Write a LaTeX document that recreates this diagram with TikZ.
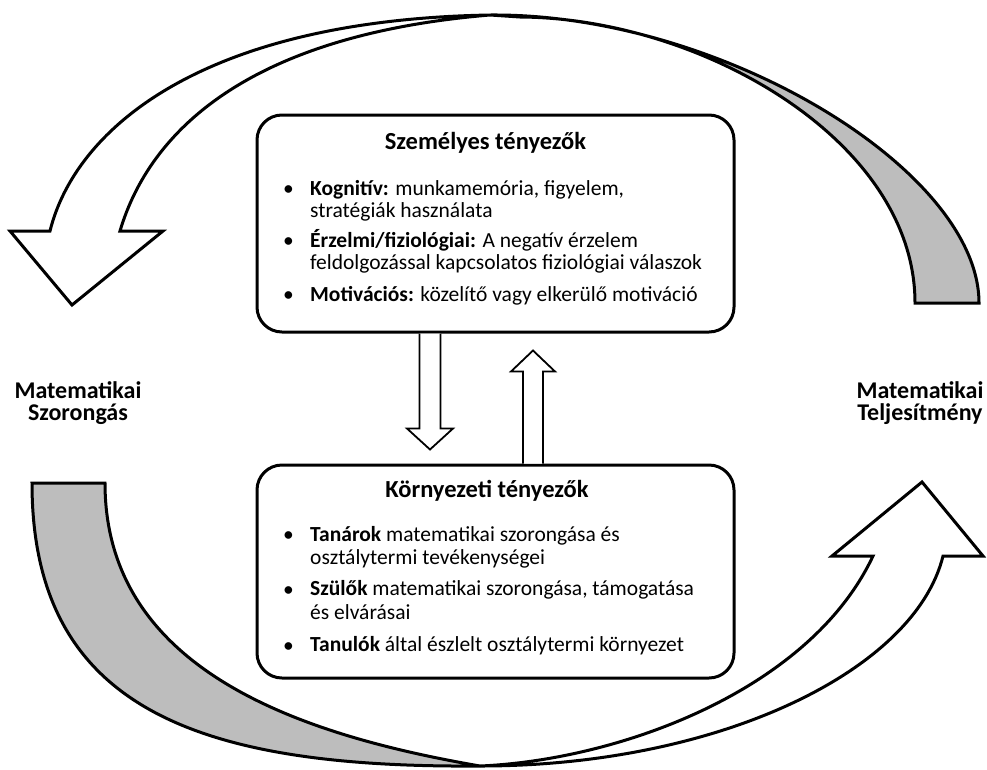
\documentclass[tikz,border=0pt]{standalone}
\usepackage{fontspec}
\setmainfont{Carlito}
\begin{document}
\begin{tikzpicture}[x=1pt,y=-1pt,
  box/.style={draw, line width=3pt, rounded corners=25pt, minimum width=477pt, inner sep=0pt},
  bigarrow/.style={draw, line width=3pt, line join=miter, miter limit=10},
  tail/.style={bigarrow, fill=black!26},
  smallarrow/.style={draw, line width=1.8pt, line join=miter, fill=white},
  body/.style={font=\fontsize{21.5}{22}\selectfont, inner sep=0pt, anchor=base west},
  bul/.style={font=\fontsize{21.5}{22}\selectfont, inner sep=0pt, anchor=base},
  ttl/.style={font=\fontsize{24.5}{25}\selectfont\bfseries, inner sep=0pt, anchor=base},
  side/.style={font=\fontsize{24}{25}\selectfont\bfseries, inner sep=0pt, anchor=base}]
\useasboundingbox (0,0) rectangle (987,769);

% ---- top curved arrow (gray tail + white head) ----
\draw[tail] (490,15) .. controls (720,13) and (979,170) .. (979,303)
  -- (915,303) .. controls (915,140) and (700,18) .. (520,17) -- cycle;
\draw[bigarrow, fill=white] (72,305) -- (10,231) -- (50,231)
  .. controls (75,130) and (200,20) .. (490,15)
  .. controls (250,35) and (150,130) .. (120,231)
  -- (163,231) -- cycle;

% ---- bottom curved arrow (gray tail + white head) ----
\draw[tail] (32,483) -- (105,483) .. controls (105,670) and (300,735) .. (480,766)
  .. controls (200,768) and (32,710) .. (32,483) -- cycle;
\draw[bigarrow, fill=white] (922,482) -- (983,556) -- (943,556)
  .. controls (915,670) and (720,766) .. (480,766)
  .. controls (620,760) and (810,690) .. (873,556)
  -- (832,556) -- cycle;

% ---- boxes ----
\node[box, minimum height=217pt] (pers) at (495.5,223.5) {};
\node[box, minimum height=213pt] (env) at (495.5,571.5) {};

% ---- small arrows between boxes ----
\draw[smallarrow] ([xshift=-76pt]pers.south) -- ++(0,95) -- ++(-12.5,0)
  -- ++(23,21) -- ++(23,-21) -- ++(-12.5,0) -- ([xshift=-55pt]pers.south);
\draw[smallarrow] ([xshift=27.5pt]env.north) -- ++(0,-92) -- ++(-12,0)
  -- ++(22,-21) -- ++(22,21) -- ++(-12,0) -- ([xshift=47.5pt]env.north);

% ---- texts: personal factors ----
\node[ttl] (pt) at (485.5,149) {Személyes tényezők};
\node[bul] (pb1) at (288.5,195) {•};
\node[body] (p1a) at (310,195) {\textbf{Kognitív:} munkamemória, figyelem,};
\node[body] (p1b) at (310,217) {stratégiák használata};
\node[bul] (pb2) at (288.5,247) {•};
\node[body] (p2a) at (310,247) {\textbf{Érzelmi/fiziológiai:} A negatív érzelem};
\node[body] (p2b) at (310,269) {feldolgozással kapcsolatos fiziológiai válaszok};
\node[bul] (pb3) at (288.5,301) {•};
\node[body] (p3a) at (310,301) {\textbf{Motivációs:} közelítő vagy elkerülő motiváció};

% ---- texts: environmental factors ----
\node[ttl] (et) at (487,497) {Környezeti tényezők};
\node[bul] (eb1) at (288.5,541) {•};
\node[body] (e1a) at (310,541) {\textbf{Tanárok} matematikai szorongása és};
\node[body] (e1b) at (310,564) {osztálytermi tevékenységei};
\node[bul] (eb2) at (288.5,596) {•};
\node[body] (e2a) at (310,595) {\textbf{Szülők} matematikai szorongása, támogatása};
\node[body] (e2b) at (310,619) {és elvárásai};
\node[bul] (eb3) at (288.5,652) {•};
\node[body] (e3a) at (310,651) {\textbf{Tanulók} által észlelt osztálytermi környezet};

% ---- side labels ----
\node[side] (ma1) at (78,398) {Matematikai};
\node[side] (ma2) at (78,420) {Szorongás};
\node[side] (mt1) at (920,398) {Matematikai};
\node[side] (mt2) at (920,420) {Teljesítmény};
\end{tikzpicture}
\end{document}
